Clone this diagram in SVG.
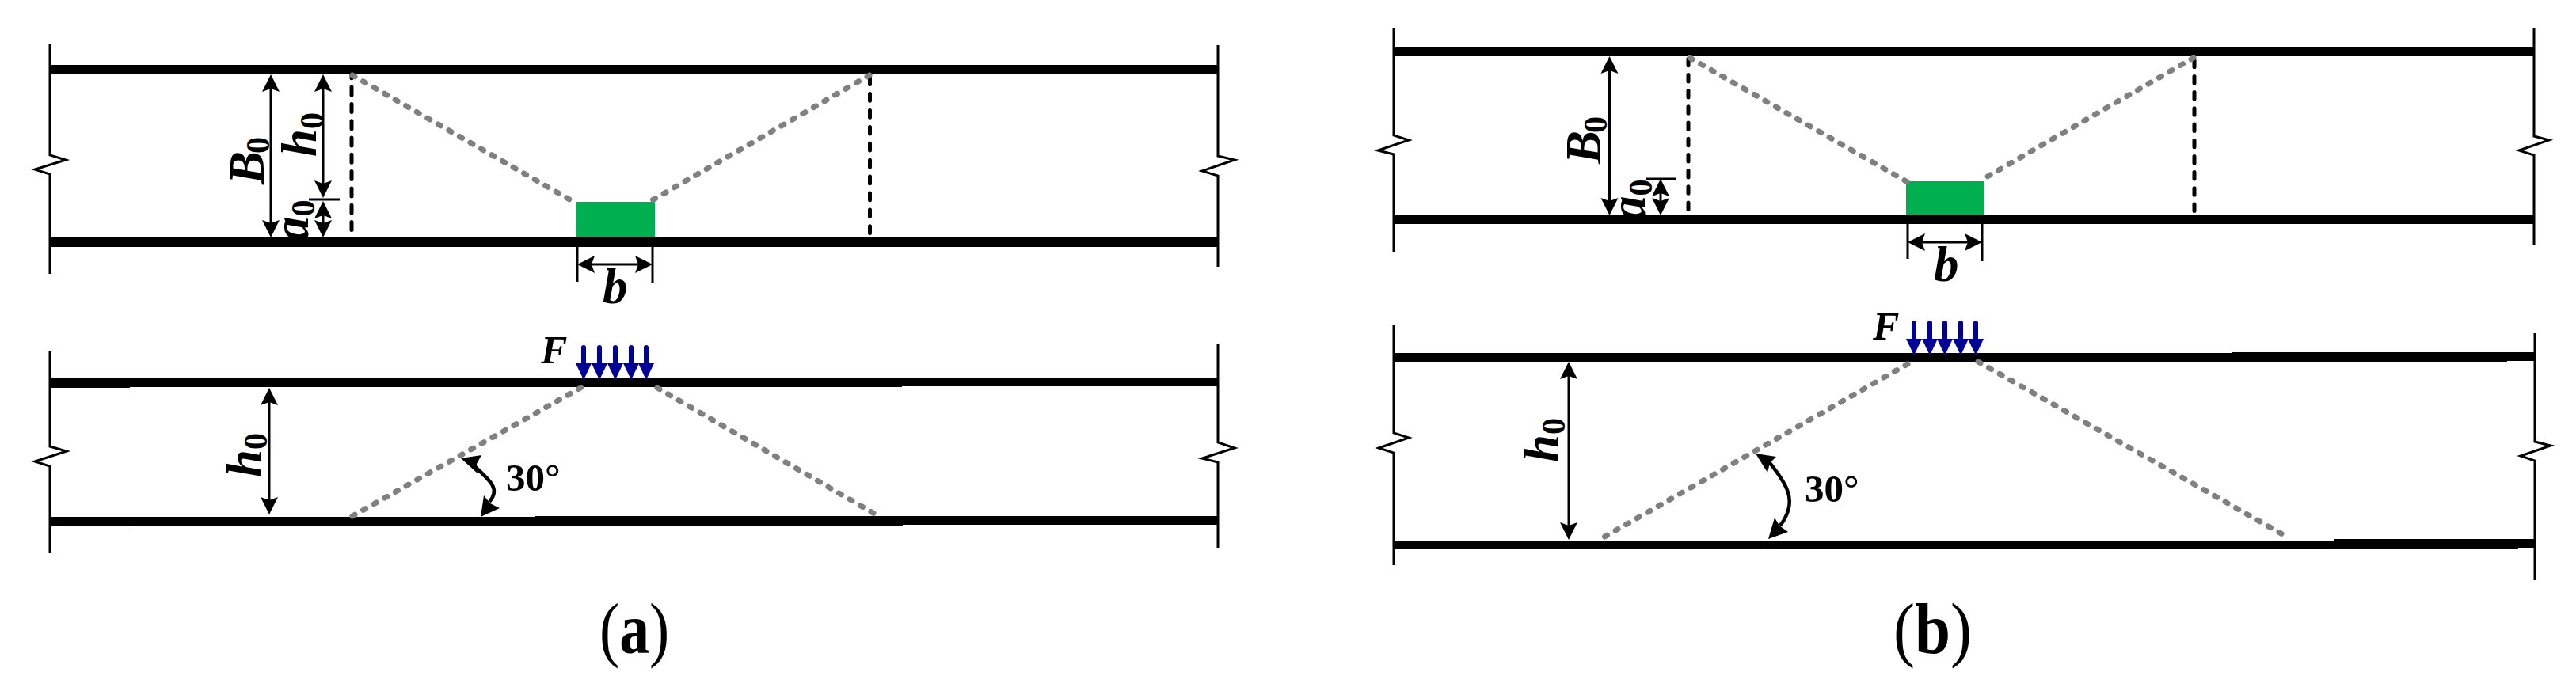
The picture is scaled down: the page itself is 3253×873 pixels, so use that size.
<svg xmlns="http://www.w3.org/2000/svg" width="3253" height="873" viewBox="0 0 3253 873">
<style>
.bar{fill:#000}
.edge{fill:none;stroke:#000;stroke-width:3}
.dim{stroke:#000;stroke-width:3;fill:none;marker-start:url(#head);marker-end:url(#head)}
.tick{stroke:#000;stroke-width:3;fill:none}
.dash{stroke:#000;stroke-width:5;stroke-linecap:round;fill:none}
.dot{stroke:#808080;stroke-width:7;stroke-linecap:round;stroke-dasharray:3.5 12.1;fill:none}
.green{fill:#00b050}
.sym{font-family:"Liberation Serif",serif;font-weight:bold;font-style:italic;font-size:63px;fill:#000}
.sub{font-style:normal;font-size:42px}
.f{font-family:"Liberation Serif",serif;font-weight:bold;font-style:italic;font-size:50px;fill:#000}
.deg{font-family:"Liberation Serif",serif;font-weight:bold;font-size:49px;fill:#000}
.cap{font-family:"Liberation Serif",serif;font-size:90px;fill:#000}
.cap tspan{font-weight:bold}
.curve{fill:none;stroke:#000;stroke-width:4.5}
</style>
<defs>
<marker id="head" markerUnits="userSpaceOnUse" markerWidth="26" markerHeight="26" refX="12" refY="13" orient="auto-start-reverse">
<path d="M0,2 L22,13 L0,24 L4,13 z" fill="#000"/>
</marker>
<path id="load" d="M-3,3 a3,3 0 0 1 6,0 V23 H10 L0,44 L-10,23 H-3 z" fill="#000099"/>
</defs>
<rect width="3253" height="873" fill="#fff"/>

<g id="panel-a-plan">
<text class="sym" transform="translate(333,233) rotate(-90)">B<tspan class="sub" dy="7" dx="-3">0</tspan></text>
<text class="sym" transform="translate(399,198) rotate(-90)">h<tspan class="sub" dy="9">0</tspan></text>
<text class="sym" transform="translate(389,305) rotate(-90)">a<tspan class="sub" dy="8">0</tspan></text>
<text class="sym" x="761" y="383">b</text>
<rect class="green" x="727" y="255" width="100" height="45"/>
<rect id="a-plan-top" class="bar" x="62" y="82" width="1477" height="12"/>
<rect id="a-plan-bottom" class="bar" x="62" y="300" width="1477" height="12"/>
<path class="edge" d="M63,56 V196 L83,202 L44,214 L63,220 V346"/>
<path class="edge" d="M1538,57 V197 L1559,202 L1518,216 L1538,222 V337"/>
</g>

<g id="panel-a-elevation">
<text class="sym" transform="translate(330,603) rotate(-90)">h<tspan class="sub" dy="7">0</tspan></text>
<text class="f" x="683" y="459">F</text>
<text class="deg" x="639" y="620">30°</text>
<path class="bar" d="M62,478 H675 V477 H1539 V488 H1139 V489 H164 V490 H62 z"/>
<path class="bar" d="M62,653 H676 V652 H1539 V663 H1140 V664 H164 V665 H62 z"/>
<path class="edge" d="M63,444 V564 L84,570 L44,583 L63,589 V699"/>
<path class="edge" d="M1538,435 V559 L1559,566 L1518,579 L1538,584 V692"/>
<g id="a-load">
<use href="#load" x="737" y="436"/><use href="#load" x="757" y="436"/><use href="#load" x="777" y="436"/><use href="#load" x="797" y="436"/><use href="#load" x="816" y="436"/>
</g>
<path class="curve" d="M598,588 C620,608 632,618 618,634"/>
<path d="M582,579 L608,575 L602,586 L603,598 z" fill="#000"/>
<path d="M607,653 L631,642 L619,636 L611,626 z" fill="#000"/>
</g>

<g id="panel-b-plan">
<text class="sym" transform="translate(2021,207) rotate(-90)">B<tspan class="sub" dy="8" dx="-3">0</tspan></text>
<text class="sym" transform="translate(2077,279) rotate(-90)">a<tspan class="sub" dy="9">0</tspan></text>
<text class="sym" x="2442" y="355">b</text>
<rect class="green" x="2407" y="229" width="98" height="43"/>
<rect id="b-plan-top" class="bar" x="1760" y="60" width="1441" height="11"/>
<rect id="b-plan-bottom" class="bar" x="1760" y="272" width="1441" height="11"/>
<path class="edge" d="M1760,35 V171 L1779,177 L1740,190 L1760,195 V318"/>
<path class="edge" d="M3200,35 V172 L3219,177 L3181,190 L3200,196 V309"/>
</g>

<g id="panel-b-elevation">
<text class="sym" transform="translate(1968,584) rotate(-90)">h<tspan class="sub" dy="8">0</tspan></text>
<text class="f" x="2365" y="429">F</text>
<text class="deg" x="2279" y="634">30°</text>
<path class="bar" d="M1760,446 H2818 V445 H3201 V456 H3166 V457 H1760 z"/>
<path class="bar" d="M1760,683 H2947 V681 H3201 V692 H3180 V693 H2225 V694 H1760 z"/>
<path class="edge" d="M1760,411 V547 L1779,553 L1741,566 L1760,572 V714"/>
<path class="edge" d="M3201,421 V558 L3221,563 L3183,576 L3201,582 V733"/>
<g id="b-load">
<use href="#load" x="2417" y="405"/><use href="#load" x="2437" y="405"/><use href="#load" x="2456" y="405"/><use href="#load" x="2476" y="405"/><use href="#load" x="2495" y="405"/>
</g>
<path class="curve" d="M2232,581 C2256,612 2272,632 2248,664"/>
<path d="M2217,573 L2243,577 L2235,585 L2232,597 z" fill="#000"/>
<path d="M2233,681 L2258,672 L2247,664 L2241,654 z" fill="#000"/>
</g>

<g id="caption-a"><text class="cap" transform="translate(757,825) scale(.84,1)">(<tspan>a</tspan>)</text></g>
<g id="caption-b"><text class="cap" transform="translate(2391,825) scale(.9,1)">(<tspan>b</tspan>)</text></g>

<g id="connectors">
<line class="dim" x1="342" y1="104" x2="342" y2="290"/>
<line class="dim" x1="408" y1="104" x2="408" y2="240"/>
<line class="dim" x1="408" y1="264" x2="408" y2="290"/>
<line class="tick" x1="390" y1="252" x2="429" y2="252"/>
<line class="dash" x1="444" y1="290.5" x2="444" y2="94" stroke-dasharray="10 11.3"/>
<line class="dash" x1="1098.5" y1="294.5" x2="1098.5" y2="94" stroke-dasharray="8.7 12.2"/>
<line class="dot" x1="445" y1="95" x2="728" y2="257"/>
<line class="dot" x1="1098" y1="95" x2="820" y2="255"/>
<line class="tick" x1="729" y1="312" x2="729" y2="356"/>
<line class="tick" x1="824" y1="312" x2="824" y2="358"/>
<line class="dim" x1="739" y1="334" x2="814" y2="334"/>

<line class="dim" x1="340" y1="500" x2="340" y2="640"/>
<line class="dot" x1="445" y1="652" x2="735" y2="489"/>
<line class="dot" x1="830" y1="490" x2="1106" y2="650"/>

<line class="dim" x1="2032.500" y1="81" x2="2032.500" y2="262"/>
<line class="dim" x1="2097" y1="236" x2="2097" y2="262"/>
<line class="tick" x1="2079" y1="226" x2="2117" y2="226"/>
<line class="dash" x1="2132" y1="264.500" x2="2132" y2="71" stroke-dasharray="8.5 11.7"/>
<line class="dash" x1="2771" y1="266.500" x2="2771" y2="71" stroke-dasharray="8.5 11.7"/>
<line class="dot" x1="2134" y1="73" x2="2409" y2="230"/>
<line class="dot" x1="2770" y1="73" x2="2501" y2="228"/>
<line class="tick" x1="2409" y1="283" x2="2409" y2="327"/>
<line class="tick" x1="2503" y1="283" x2="2503" y2="330"/>
<line class="dim" x1="2419" y1="306" x2="2493" y2="306"/>

<line class="dim" x1="1981" y1="467" x2="1981" y2="672"/>
<line class="dot" x1="2026.500" y1="678" x2="2414" y2="457"/>
<line class="dot" x1="2498" y1="457" x2="2891" y2="680"/>
</g>
</svg>
